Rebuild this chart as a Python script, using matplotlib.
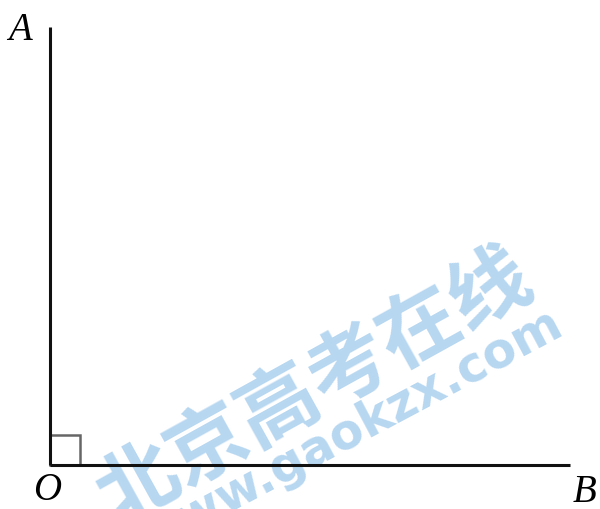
import matplotlib.pyplot as plt
from matplotlib.patches import Rectangle

# points of the figure (pixel-like units, y grows downward)
point_names = ['A', 'O', 'B']
point_x = [50, 50, 570]
point_y = [27, 465, 465]
label_x = [20, 47, 585]
label_y = [30, 491, 493]
mark_size = 30  # right angle marker

fig = plt.figure(figsize=(6.0, 5.09), dpi=100)
ax = fig.add_axes([0, 0, 1, 1])
ax.set_xlim(0, 600)
ax.set_ylim(509, 0)
ax.axis('off')

# watermark
wm_color = '#b7d7f1'
ax.text(315, 388, '北京高考在线', fontsize=58, fontweight='bold', color=wm_color,
        rotation=29, ha='center', va='center', family=['Noto Sans CJK SC'], zorder=1)
ax.text(350, 432, 'www.gaokzx.com', fontsize=35, fontweight='bold', color=wm_color,
        rotation=28, ha='center', va='center', family=['DejaVu Sans'], zorder=1)

# rays OA and OB
ax.plot([point_x[1], point_x[0]], [point_y[1], point_y[0]], color='#111111', lw=2.2,
        solid_capstyle='butt', zorder=3)
ax.plot([point_x[1], point_x[2]], [point_y[1], point_y[2]], color='#111111', lw=2.2,
        solid_capstyle='butt', zorder=3)

# right angle marker
ax.add_patch(Rectangle((point_x[1], point_y[1] - mark_size), mark_size, mark_size,
                       fill=False, edgecolor='#666666', lw=1.8, zorder=2))

for name, lx, ly in zip(point_names, label_x, label_y):
    ax.text(lx, ly, name, fontsize=28, style='italic', family='Liberation Serif',
            ha='center', va='center', zorder=4)

fig.savefig('out.png', dpi=100)
